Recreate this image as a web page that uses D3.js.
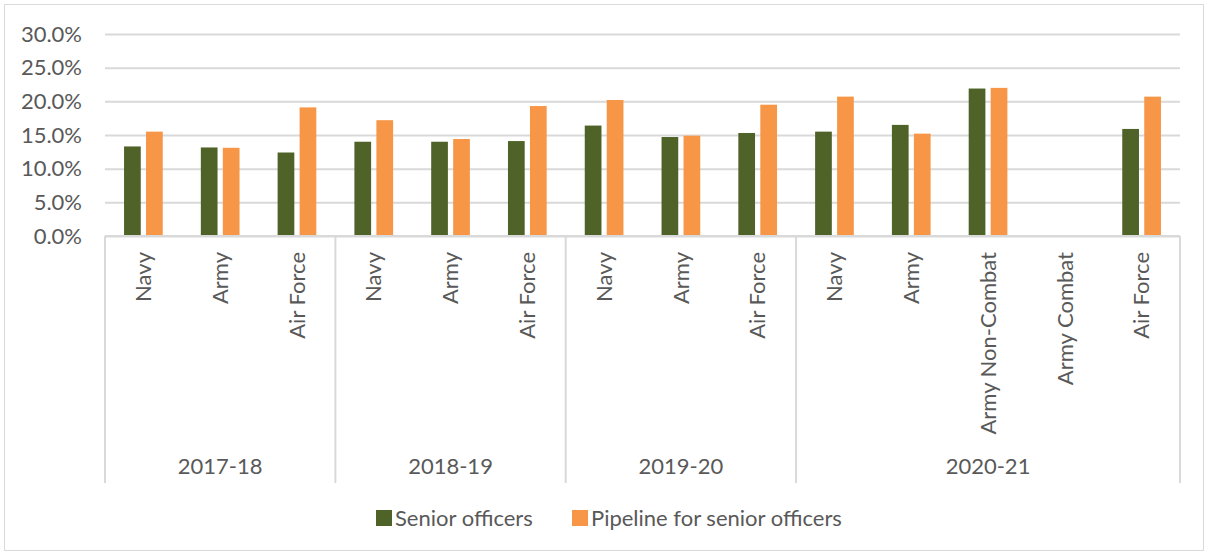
<!DOCTYPE html>
<html>
<head>
<meta charset="utf-8">
<script src="https://cdn.jsdelivr.net/npm/d3@7"></script>
<style>
  body { margin: 0; background: #fff; }
  svg { display: block; font-family: Lato, 'Open Sans', sans-serif; }
</style>
</head>
<body>
<svg id="chart"></svg>
<script>
const categories = ['Navy', 'Army', 'Air Force', 'Navy', 'Army', 'Air Force', 'Navy', 'Army', 'Air Force',
  'Navy', 'Army', 'Army Non-Combat', 'Army Combat', 'Air Force']
const categoryYears = ['2017-18', '2017-18', '2017-18', '2018-19', '2018-19', '2018-19', '2019-20', '2019-20', '2019-20',
  '2020-21', '2020-21', '2020-21', '2020-21', '2020-21']
const years = ['2017-18', '2018-19', '2019-20', '2020-21']
const seniorOfficers = [13.3, 13.15, 12.4, 14.0, 14.0, 14.1, 16.4, 14.7, 15.3, 15.5, 16.5, 21.9, null, 15.9]
const pipeline = [15.5, 13.1, 19.1, 17.2, 14.4, 19.3, 20.2, 14.9, 19.5, 20.7, 15.2, 22.0, null, 20.7]
const seriesNames = ['Senior officers', 'Pipeline for senior officers']
const yTicks = [0, 5, 10, 15, 20, 25, 30]

const width = 1208
const height = 555
const margin = { top: 34, right: 28, bottom: 319, left: 105 }
const innerWidth = width - margin.left - margin.right
const innerHeight = height - margin.top - margin.bottom
const textColor = '#595959'
const gridColor = '#d9d9d9'
const colors = ['#4f6228', '#f79646']
const fontSize = '22px'

const svg = d3.select('#chart')
  .attr('width', width)
  .attr('height', height)

// outer chart border
svg.append('rect')
  .attr('x', 4.5).attr('y', 4.5)
  .attr('width', width - 9).attr('height', height - 9)
  .attr('fill', 'none')
  .attr('stroke', gridColor)

const g = svg.append('g')
  .attr('transform', `translate(${margin.left},${margin.top})`)

const idx = categories.map((d, i) => i)

const x0 = d3.scaleBand()
  .domain(idx)
  .range([0, innerWidth])
  .padding(0)

const step = x0.step()
const x1 = d3.scaleBand()
  .domain([0, 1])
  .range([step * 0.248, step * 0.752])
  .paddingInner(0.24)
  .paddingOuter(0)

const y = d3.scaleLinear()
  .domain([0, 30])
  .range([innerHeight, 0])

// gridlines + y labels
const yAxis = g.append('g')
  .call(d3.axisLeft(y).tickValues(yTicks).tickSize(-innerWidth).tickPadding(23)
    .tickFormat(d => d.toFixed(1) + '%'))
yAxis.select('.domain').remove()
yAxis.selectAll('.tick line').attr('stroke', gridColor).attr('stroke-width', 2)
yAxis.selectAll('.tick text')
  .attr('fill', textColor)
  .attr('font-size', fontSize)
  .attr('font-family', 'Lato, sans-serif')

// bars
const series = [seniorOfficers, pipeline]
series.forEach((vals, s) => {
  g.selectAll('.bar-' + s)
    .data(idx.filter(i => vals[i] != null))
    .enter().append('rect')
    .attr('class', 'bar-' + s)
    .attr('x', i => x0(i) + x1(s))
    .attr('y', i => y(vals[i]))
    .attr('width', x1.bandwidth())
    .attr('height', i => innerHeight - y(vals[i]))
    .attr('fill', colors[s])
})

// category axis
const axisBottom = 247
g.append('line')
  .attr('x1', 0).attr('x2', innerWidth)
  .attr('y1', innerHeight).attr('y2', innerHeight)
  .attr('stroke', gridColor).attr('stroke-width', 2)

const boundaries = [0]
years.forEach(yr => {
  const last = categoryYears.lastIndexOf(yr)
  boundaries.push(x0(last) + step)
})
g.selectAll('.divider')
  .data(boundaries)
  .enter().append('line')
  .attr('class', 'divider')
  .attr('x1', d => d).attr('x2', d => d)
  .attr('y1', innerHeight).attr('y2', innerHeight + axisBottom)
  .attr('stroke', gridColor).attr('stroke-width', 2)

g.selectAll('.cat-label')
  .data(idx)
  .enter().append('text')
  .attr('class', 'cat-label')
  .attr('transform', i => `translate(${x0(i) + step / 2},${innerHeight + 16}) rotate(-90)`)
  .attr('text-anchor', 'end')
  .attr('dy', '0.35em')
  .attr('fill', textColor)
  .attr('font-size', fontSize)
  .text(i => categories[i])

g.selectAll('.year-label')
  .data(years)
  .enter().append('text')
  .attr('class', 'year-label')
  .attr('x', (yr, k) => (boundaries[k] + boundaries[k + 1]) / 2)
  .attr('y', innerHeight + 238)
  .attr('text-anchor', 'middle')
  .attr('fill', textColor)
  .attr('font-size', fontSize)
  .text(d => d)

// legend
const legend = svg.append('g')
  .attr('transform', 'translate(376,518)')
const legendOffsets = [0, 196]
seriesNames.forEach((name, s) => {
  const item = legend.append('g').attr('transform', `translate(${legendOffsets[s]},0)`)
  item.append('rect')
    .attr('x', 0).attr('y', -8)
    .attr('width', 16).attr('height', 16)
    .attr('fill', colors[s])
  item.append('text')
    .attr('x', 19).attr('dy', '0.35em')
    .attr('fill', textColor)
    .attr('font-size', fontSize)
    .text(name)
})
</script>
</body>
</html>
